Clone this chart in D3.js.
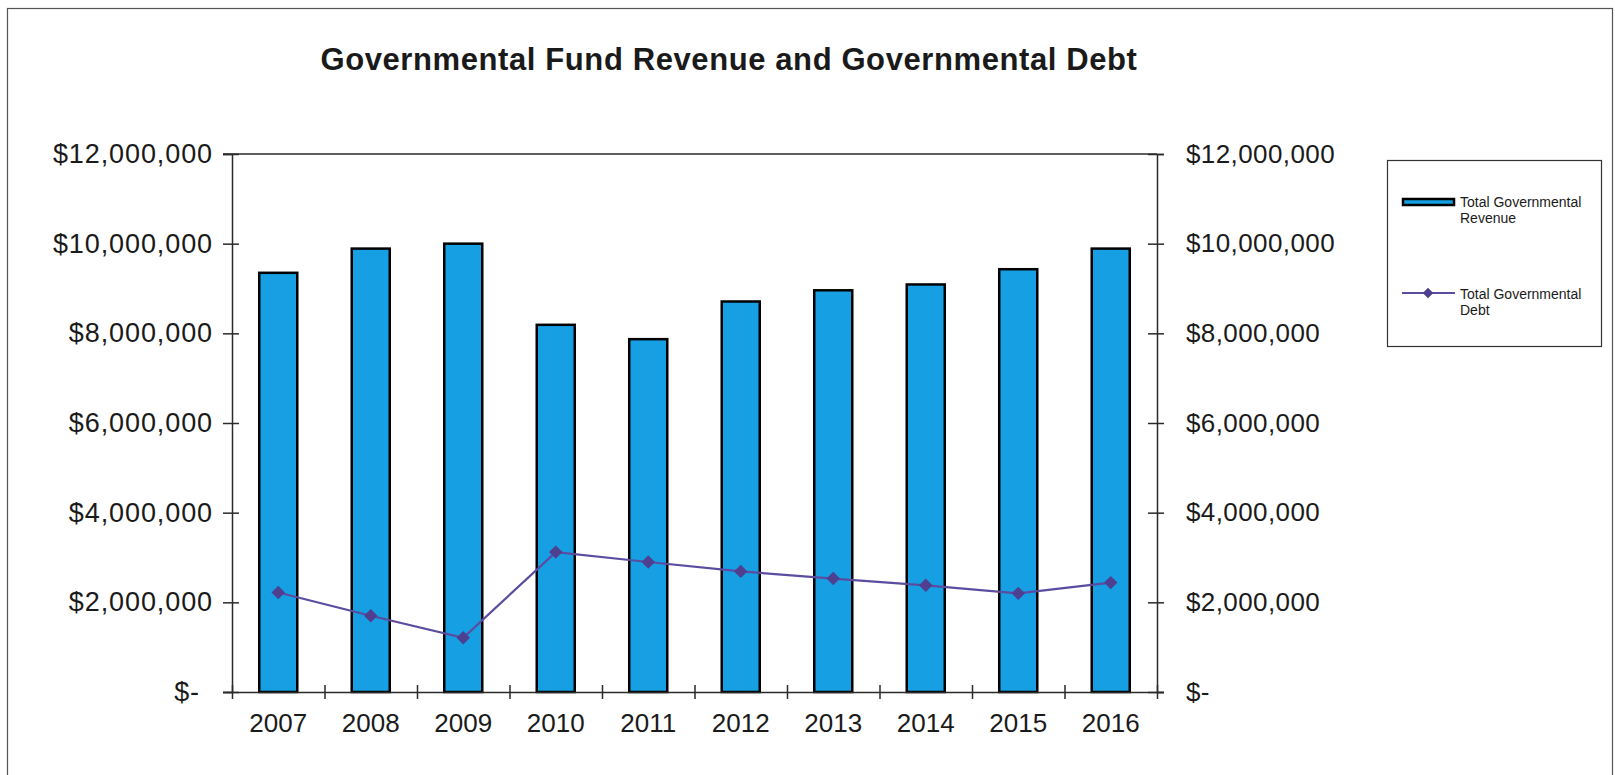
<!DOCTYPE html>
<html>
<head>
<meta charset="utf-8">
<script src="https://cdn.jsdelivr.net/npm/d3@7"></script>
<style>
  body { margin: 0; background: #fff; }
  svg text { font-family: "Liberation Sans", Arial, sans-serif; fill: #1a1a1a; }
  .axis path, .axis line { stroke: #2a2a2a; stroke-width: 1.5; }
</style>
</head>
<body>
<div id="chart"></div>
<script>
// values
const years = ["2007", "2008", "2009", "2010", "2011", "2012", "2013", "2014", "2015", "2016"];
const revenue = [9350000, 9890000, 10000000, 8190000, 7870000, 8710000, 8960000, 9090000, 9430000, 9890000];
const debt = [2220000, 1700000, 1210000, 3120000, 2900000, 2690000, 2530000, 2380000, 2200000, 2440000];
const yTicks = [0, 2000000, 4000000, 6000000, 8000000, 10000000, 12000000];
const legendLabels = [["Total Governmental", "Revenue"], ["Total Governmental", "Debt"]];

const WIDTH = 1615;
const HEIGHT = 775;
const PLOT = { left: 232, right: 1157, top: 154, bottom: 692 };
const BAR_FILL = "#169fe2";
const LINE_COLOR = "#5b4ca0";
const MARKER_COLOR = "#4e3f90";

const svg = d3.select("#chart").append("svg")
              .attr("width", WIDTH)
              .attr("height", HEIGHT);

// outer frame
svg.append("rect")
   .attr("x", 7.5).attr("y", 8.5)
   .attr("width", 1605).attr("height", 800)
   .attr("fill", "none")
   .attr("stroke", "#555")
   .attr("stroke-width", 1.2);

svg.append("text")
   .attr("x", 729)
   .attr("y", 70)
   .attr("text-anchor", "middle")
   .attr("font-size", "31px")
   .attr("font-weight", "bold")
   .attr("letter-spacing", "0.6px")
   .text("Governmental Fund Revenue and Governmental Debt");

const x = d3.scaleBand()
            .domain(years)
            .range([PLOT.left, PLOT.right])
            .paddingInner(0.589)
            .paddingOuter(0.2945);

const xEdges = d3.scaleLinear()
                 .domain([0, years.length])
                 .range([PLOT.left, PLOT.right]);

const y = d3.scaleLinear()
            .domain([0, 12000000])
            .range([PLOT.bottom, PLOT.top]);

const fmt = d => d === 0 ? "$-" : "$" + d3.format(",")(d);

// plot top border
svg.append("line")
   .attr("x1", PLOT.left - 9).attr("x2", PLOT.right)
   .attr("y1", y(12000000)).attr("y2", y(12000000))
   .attr("stroke", "#2a2a2a").attr("stroke-width", 1.5);

// bars
svg.selectAll(".bar")
   .data(revenue)
   .enter()
   .append("rect")
   .attr("class", "bar")
   .attr("x", (d, i) => x(years[i]))
   .attr("y", d => y(d))
   .attr("width", x.bandwidth())
   .attr("height", d => y(0) - y(d))
   .attr("fill", BAR_FILL)
   .attr("stroke", "#000")
   .attr("stroke-width", 2.5);

// left axis
const yAxisL = svg.append("g")
                  .attr("class", "axis")
                  .attr("transform", `translate(${PLOT.left},0)`)
                  .call(d3.axisLeft(y).tickValues(yTicks).tickFormat(fmt).tickSizeOuter(0).tickSize(9).tickPadding(10));
yAxisL.selectAll(".tick line").attr("x2", -9).attr("x1", 7);
yAxisL.selectAll(".tick text")
      .attr("font-size", "27px")
      .attr("letter-spacing", "0.9px")
      .attr("dx", d => d === 0 ? -13 : 0);

// right axis
const yAxisR = svg.append("g")
                  .attr("class", "axis")
                  .attr("transform", `translate(${PLOT.right},0)`)
                  .call(d3.axisRight(y).tickValues(yTicks).tickFormat(fmt).tickSizeOuter(0).tickSize(7).tickPadding(22));
yAxisR.selectAll(".tick line").attr("x1", -9).attr("x2", 7);
yAxisR.selectAll(".tick text")
      .attr("font-size", "26px")
      .attr("letter-spacing", "0.4px");

// x axis: boundary ticks crossing the base line
const xAxisEdges = svg.append("g")
                      .attr("class", "axis")
                      .attr("transform", `translate(0,${PLOT.bottom})`)
                      .call(d3.axisBottom(xEdges).tickValues(d3.range(years.length + 1)).tickFormat("").tickSizeOuter(0).tickSize(7));
xAxisEdges.selectAll(".tick line").attr("y1", -7).attr("y2", 7);
xAxisEdges.select(".domain").attr("d", `M${PLOT.left - 9},0.5H${PLOT.right + 7}`);

// x labels
const xAxis = svg.append("g")
                 .attr("transform", `translate(0,${PLOT.bottom})`)
                 .call(d3.axisBottom(x).tickSize(0).tickPadding(22));
xAxis.select(".domain").remove();
xAxis.selectAll(".tick text").attr("font-size", "26px");

// debt line
const line = d3.line()
               .x((d, i) => x(years[i]) + x.bandwidth() / 2)
               .y(d => y(d));

svg.append("path")
   .datum(debt)
   .attr("d", line)
   .attr("fill", "none")
   .attr("stroke", LINE_COLOR)
   .attr("stroke-width", 2.2);

const diamond = d3.symbol().type(d3.symbolDiamond2).size(115);

svg.selectAll(".marker")
   .data(debt)
   .enter()
   .append("path")
   .attr("class", "marker")
   .attr("d", diamond)
   .attr("transform", (d, i) => `translate(${x(years[i]) + x.bandwidth() / 2},${y(d)})`)
   .attr("fill", MARKER_COLOR);

// legend
const legend = svg.append("g");
legend.append("rect")
      .attr("x", 1387.5).attr("y", 160.5)
      .attr("width", 214).attr("height", 186)
      .attr("fill", "#fff")
      .attr("stroke", "#333")
      .attr("stroke-width", 1.2);

legend.append("rect")
      .attr("x", 1403).attr("y", 199)
      .attr("width", 51).attr("height", 6)
      .attr("fill", BAR_FILL)
      .attr("stroke", "#000")
      .attr("stroke-width", 2.5);

legend.append("line")
      .attr("x1", 1402).attr("x2", 1455)
      .attr("y1", 293).attr("y2", 293)
      .attr("stroke", LINE_COLOR)
      .attr("stroke-width", 2);

legend.append("path")
      .attr("d", d3.symbol().type(d3.symbolDiamond2).size(70))
      .attr("transform", "translate(1428,293)")
      .attr("fill", MARKER_COLOR);

const legendY = [207, 299];
legendLabels.forEach((lines, k) => {
    const t = legend.append("text")
                    .attr("x", 1460)
                    .attr("y", legendY[k])
                    .attr("font-size", "14px");
    lines.forEach((s, j) => {
        t.append("tspan")
         .attr("x", 1460)
         .attr("dy", j === 0 ? 0 : 16)
         .text(s);
    });
});
</script>
</body>
</html>
